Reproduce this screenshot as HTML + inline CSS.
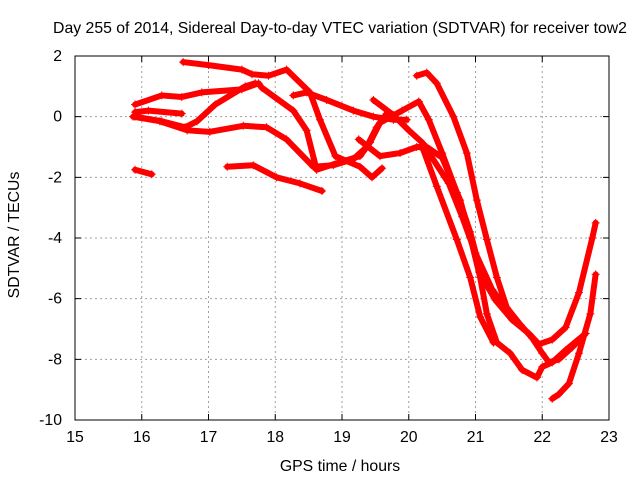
<!DOCTYPE html>
<html><head><meta charset="utf-8"><style>
body{margin:0;background:#fff}
svg{display:block;font-family:"Liberation Sans",sans-serif}
</style></head><body>
<svg id="chart" width="640" height="480">
<rect width="640" height="480" fill="#fff"/>
<text x="340" y="33" font-size="15.8" text-anchor="middle">Day 255 of 2014, Sidereal Day-to-day VTEC variation (SDTVAR) for receiver tow2</text>
<text x="340" y="471" font-size="15.8" text-anchor="middle">GPS time / hours</text>
<text x="19" y="235" font-size="15.8" text-anchor="middle" transform="rotate(-90 19 235)">SDTVAR / TECUs</text>
<g id="grid"></g>
<g id="ticks"></g>
<g id="series"></g>
<rect x="75" y="56" width="534" height="364" fill="none" stroke="#000" stroke-width="1"/>
</svg>
<script>
const xTicks=[15,16,17,18,19,20,21,22,23];
const yTicks=[2,0,-2,-4,-6,-8,-10];
const s1x=[16.62,17.0,17.5,17.65,17.9,18.17,18.52,18.67,18.9,19.27,19.45,19.6];
const s1y=[1.8,1.7,1.55,1.4,1.35,1.55,0.8,-0.1,-1.3,-1.65,-2.0,-1.7];
const s2x=[15.9,16.3,16.6,16.9,17.5,17.75,17.8,18.27,18.47,18.62,18.97,19.27,19.42,19.57,19.9,20.15,20.3,20.5,20.72,20.92,21.1,21.3,21.55,21.8,21.95,22.15,22.35,22.55,22.75,22.8];
const s2y=[0.4,0.7,0.65,0.8,0.9,1.1,0.95,0.2,-0.45,-1.75,-1.5,-1.3,-0.85,-0.2,0.2,0.5,-0.1,-1.2,-2.5,-3.8,-5.3,-6.05,-6.7,-7.15,-7.5,-7.35,-6.95,-5.8,-4.0,-3.5];
const s3x=[15.9,16.1,16.6];
const s3y=[0.15,0.2,0.1];
const s4x=[15.9,16.3,16.65,16.83,17.1,17.55,17.7];
const s4y=[0,-0.15,-0.35,-0.15,0.4,1.0,1.1];
const s5x=[15.87,16.27,16.68,17.02,17.52,17.87,18.17,18.57,18.87,19.17,19.37,19.52,19.67];
const s5y=[0,-0.15,-0.45,-0.5,-0.3,-0.35,-0.75,-1.65,-1.6,-1.4,-1.0,-0.35,0.1];
const s6x=[18.27,18.47,18.77,19.17,19.47,19.77,19.97];
const s6y=[0.7,0.8,0.55,0.2,0,-0.1,-0.1];
const s7x=[19.47,19.77,20.0,20.2,20.6,20.8,21.0,21.25,21.45];
const s7y=[0.55,0.05,-0.45,-0.85,-2.2,-3.3,-4.5,-5.7,-6.3];
const s8x=[19.25,19.57,19.87,20.12,20.27,20.5,20.77,20.92,21.07,21.17,21.32,21.52,21.7,21.92,22.0,22.15,22.35,22.65];
const s8y=[-0.75,-1.3,-1.2,-1.0,-1.0,-1.35,-2.75,-3.95,-5.3,-6.5,-7.45,-7.8,-8.35,-8.6,-8.25,-8.1,-7.7,-7.15];
const s9x=[20.22,20.42,20.72,20.92,21.07,21.27];
const s9y=[-1.1,-2.3,-4.05,-5.3,-6.6,-7.45];
const s10x=[20.12,20.27,20.42,20.67,20.87,21.02,21.17,21.32,21.47,21.67,21.85,22.0,22.1,22.25,22.45,22.65];
const s10y=[1.35,1.45,1.1,0,-1.2,-2.75,-4.05,-5.3,-6.3,-6.85,-7.3,-7.8,-8.1,-8.0,-7.6,-7.15];
const s11x=[22.15,22.25,22.4,22.55,22.72,22.8];
const s11y=[-9.3,-9.15,-8.8,-7.8,-6.5,-5.2];
const s12x=[15.9,16.15];
const s12y=[-1.75,-1.9];
const s13x=[17.28,17.67,18.02,18.37,18.7];
const s13y=[-1.65,-1.6,-2.0,-2.2,-2.45];
const seriesX=[s1x,s2x,s3x,s4x,s5x,s6x,s7x,s8x,s9x,s10x,s11x,s12x,s13x];
const seriesY=[s1y,s2y,s3y,s4y,s5y,s6y,s7y,s8y,s9y,s10y,s11y,s12y,s13y];

const X0=75,X1=609,Y0=56,Y1=420;
function xs(v){return X0+(v-15)/8*(X1-X0);}
function ys(v){return Y0+(2-v)/12*(Y1-Y0);}
const NS='http://www.w3.org/2000/svg';
function mk(tag,attrs,parent){const e=document.createElementNS(NS,tag);for(const k in attrs)e.setAttribute(k,attrs[k]);parent.appendChild(e);return e;}
const grid=document.getElementById('grid'),ticks=document.getElementById('ticks'),ser=document.getElementById('series');
xTicks.forEach(t=>{
  const x=xs(t);
  if(t>15&&t<23){const g=mk('line',{x1:x,x2:x,y1:Y0,y2:Y1,stroke:'#a0a0a0','stroke-dasharray':'2,3'},grid);
  
  }
  const tk=mk('path',{d:`M${x},${Y1}v-6M${x},${Y0}v6`,stroke:'#000'},ticks);
  
  
  const l=mk('text',{x:x,y:442,'font-size':'15.8','text-anchor':'middle'},ticks);l.textContent=t;
  
  
});
yTicks.forEach(t=>{
  const y=ys(t);
  if(t<2&&t>-10){const g=mk('line',{x1:X0,x2:X1,y1:y,y2:y,stroke:'#a0a0a0','stroke-dasharray':'2,3'},grid);
  
  }
  const tk=mk('path',{d:`M${X0},${y}h6M${X1},${y}h-6`,stroke:'#000'},ticks);
  
  
  const l=mk('text',{x:62,y:y+5,'font-size':'15.8','text-anchor':'end'},ticks);l.textContent=t;
  
  
});
seriesX.forEach((sx,i)=>{
  const sy=seriesY[i];
  const pts=sx.map((v,j)=>xs(v)+','+ys(sy[j])).join(' ');
  const pl=mk('polyline',{points:pts,fill:'none',stroke:'#ff0000','stroke-width':6,'stroke-linejoin':'round','stroke-linecap':'round'},ser);
  
  
  let d='';
  sx.forEach((v,j)=>{const x=xs(v),y=ys(sy[j]);d+=`M${x-4},${y}h8M${x},${y-4}v8`;});
  const m=mk('path',{d:d,stroke:'#ff0000','stroke-width':1},ser);
  
  
});
</script>
</body></html>
